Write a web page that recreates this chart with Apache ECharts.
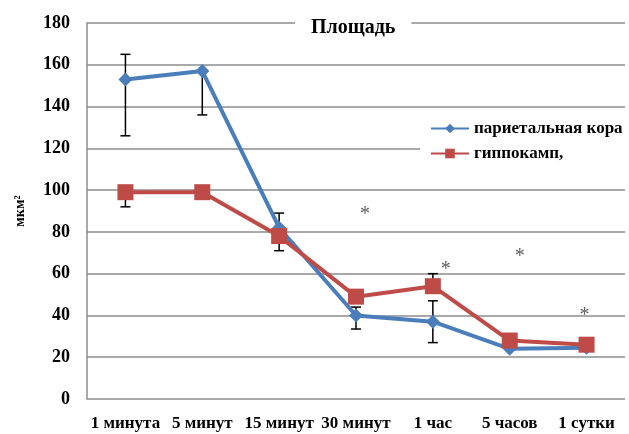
<!DOCTYPE html>
<html>
<head>
<meta charset="utf-8">
<script src="https://cdn.jsdelivr.net/npm/echarts@6/dist/echarts.min.js"></script>
<style>
  html, body { margin: 0; padding: 0; background: #fff; }
  #chart { width: 629px; height: 434px; }
</style>
</head>
<body>
<div id="chart"></div>
<script>
// подписи по оси X
const categories = ["1 минута", "5 минут", "15 минут", "30 минут", "1 час", "5 часов", "1 сутки"];

// значения серий
const cortex = [153, 157, 82, 40, 37, 24, 24.5];
const hippo = [99, 99, 78, 49, 54, 28, 26];

// планки погрешностей [низ, верх], null - нет
const cortexErr = [[126, 165], [136, 157], null, [33.5, 44], [27, 47], null, null];
const hippoErr = [[92, 99], [96, 99], [71, 89], null, [54, 60], null, null];

// звёздочки
const starCats = ["30 минут", "1 час", "5 часов", "1 сутки"];
const starValues = [90, 64, 70, 42];
const starShift = [9, 13, 10, -2];

const yTicks = { min: 0, max: 180, interval: 20 };

const blue = "#4a7ebb";
const red = "#be4b48";
const serif = "Liberation Serif";

const chart = echarts.init(document.getElementById("chart"));

function errData(err) {
  const out = [];
  err.forEach((e, i) => {
    if (e) out.push([i, e[0], e[1]]);
  });
  return out;
}

function errSeries(name, err) {
  return {
    name: name + "_err",
    type: "custom",
    z: 1,
    data: errData(err),
    renderItem: (params, api) => {
      const lo = api.coord([api.value(0), api.value(1)]);
      const hi = api.coord([api.value(0), api.value(2)]);
      const w = 5;
      const style = { stroke: "#000", lineWidth: 1.5 };
      return {
        type: "group",
        children: [
          { type: "line", shape: { x1: lo[0], y1: lo[1], x2: hi[0], y2: hi[1] }, style },
          { type: "line", shape: { x1: lo[0] - w, y1: lo[1], x2: lo[0] + w, y2: lo[1] }, style },
          { type: "line", shape: { x1: hi[0] - w, y1: hi[1], x2: hi[0] + w, y2: hi[1] }, style },
        ],
      };
    },
  };
}

const option = {
  animation: false,
  title: {
    text: "Площадь",
    left: 295,
    top: 16,
    padding: [2, 16],
    backgroundColor: "#fff",
    textStyle: { fontFamily: serif, fontWeight: "bold", fontSize: 20, color: "#000" },
  },
  legend: {
    orient: "vertical",
    left: 420,
    top: 114,
    padding: [6, 8, 8, 10],
    itemGap: 8,
    itemWidth: 38,
    itemHeight: 12,
    backgroundColor: "#fff",
    data: ["париетальная кора", "гиппокамп,"],
    textStyle: { fontFamily: serif, fontWeight: "bold", fontSize: 17, color: "#000" },
  },
  grid: { left: 87, right: 4, top: 23, bottom: 35 },
  xAxis: {
    type: "category",
    data: categories,
    boundaryGap: true,
    axisLine: { show: false },
    axisTick: { show: false },
    axisLabel: {
      interval: 0,
      margin: 16,
      fontFamily: serif,
      fontWeight: "bold",
      fontSize: 17,
      color: "#000",
    },
  },
  yAxis: {
    type: "value",
    min: yTicks.min,
    max: yTicks.max,
    interval: yTicks.interval,
    name: "мкм²",
    nameLocation: "middle",
    nameGap: 60,
    nameRotate: 90,
    nameTextStyle: { fontFamily: serif, fontWeight: "bold", fontSize: 14, color: "#000" },
    axisLine: { show: true, lineStyle: { color: "#8c8c8c", width: 1.5 } },
    axisTick: { show: false },
    splitLine: { lineStyle: { color: "#8c8c8c", width: 1.5 } },
    axisLabel: {
      margin: 17,
      fontFamily: serif,
      fontWeight: "bold",
      fontSize: 18,
      color: "#000",
    },
  },
  series: [
    errSeries("cortex", cortexErr),
    errSeries("hippo", hippoErr),
    {
      name: "париетальная кора",
      type: "line",
      z: 3,
      data: cortex,
      symbol: "diamond",
      symbolSize: 14,
      lineStyle: { color: blue, width: 4 },
      itemStyle: { color: blue },
    },
    {
      name: "гиппокамп,",
      type: "line",
      z: 4,
      data: hippo,
      symbol: "rect",
      symbolSize: 16,
      lineStyle: { color: red, width: 4 },
      itemStyle: { color: red },
    },
    {
      name: "stars",
      type: "scatter",
      symbolSize: 1,
      z: 5,
      itemStyle: { color: "rgba(0,0,0,0)" },
      data: starCats.map((c, i) => ({
        value: [c, starValues[i]],
        label: { offset: [starShift[i], 4] },
      })),
      label: {
        show: true,
        position: "inside",
        formatter: "*",
        fontFamily: serif,
        fontSize: 20,
        color: "#333",
      },
    },
  ],
};

chart.setOption(option);
</script>
</body>
</html>
